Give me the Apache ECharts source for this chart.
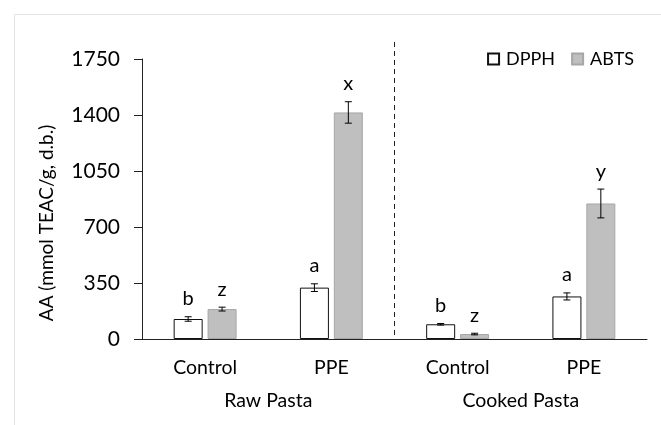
<!DOCTYPE html>
<html>
<head>
<meta charset="utf-8">
<script src="https://cdn.jsdelivr.net/npm/echarts@6/dist/echarts.min.js"></script>
<style>html,body{margin:0;padding:0;background:#fff}#c{width:661px;height:425px}</style>
</head>
<body>
<div id="c"></div>
<script>
const categories = ['Control', 'PPE', 'Control', 'PPE'];
const groups = ['Raw Pasta', 'Cooked Pasta'];
const dpphValues = [125, 321, 92, 266];
const dpphErrors = [14, 24, 5, 22];
const dpphLetters = ['b', 'a', 'b', 'a'];
const abtsValues = [187, 1416, 31, 847];
const abtsErrors = [12, 67, 5, 90];
const abtsLetters = ['z', 'x', 'z', 'y'];
const yTicks = { min: 0, max: 1750, interval: 350 };

const FONT = 'Lato';
const BAR_W = 29;
const BAR_GAP = 0.17;

function errSeries(name, values, errors, letters, sign) {
  return {
    type: 'custom',
    name: name + ' err',
    xAxisIndex: 0, yAxisIndex: 0,
    silent: true,
    z: 5,
    data: values.map((v, i) => [i, v, errors[i]]),
    renderItem: function (params, api) {
      const i = api.value(0), v = api.value(1), e = api.value(2);
      const off = sign * BAR_W * (1 + BAR_GAP) / 2;
      const hi = api.coord([i, v + e]);
      const lo = api.coord([i, v - e]);
      const x = hi[0] + off;
      const cap = 3.5;
      const st = { stroke: '#000', lineWidth: 1 };
      return {
        type: 'group',
        children: [
          { type: 'line', shape: { x1: x, y1: hi[1], x2: x, y2: lo[1] }, style: st },
          { type: 'line', shape: { x1: x - cap, y1: hi[1], x2: x + cap, y2: hi[1] }, style: st },
          { type: 'line', shape: { x1: x - cap, y1: lo[1], x2: x + cap, y2: lo[1] }, style: st },
          { type: 'text', x: x, y: hi[1] - 8, style: { text: letters[params.dataIndex], fill: '#000', font: '20px ' + FONT, align: 'center', verticalAlign: 'bottom' } }
        ]
      };
    }
  };
}

const chart = echarts.init(document.getElementById('c'), null, { renderer: 'canvas' });
chart.setOption({
  animation: false,
  backgroundColor: '#fff',
  graphic: [{
    type: 'rect', left: 12, top: 12, shape: { width: 700, height: 500 },
    style: { fill: 'none', stroke: '#e3e3e3', lineWidth: 1 }, silent: true, z: -10
  }],
  legend: {
    top: 45, right: 22, itemWidth: 11, itemHeight: 11, itemGap: 16, icon: 'rect',
    textStyle: { fontFamily: FONT, fontSize: 18, color: '#000', padding: [0, 0, 0, 2] },
    data: ['DPPH', 'ABTS']
  },
  grid: [
    { left: 142, right: 14, top: 59, bottom: 86 },
    { left: 142, right: 14, top: 42, bottom: 86 }
  ],
  xAxis: [
    {
      type: 'category', gridIndex: 0, data: categories,
      axisLine: { lineStyle: { color: '#222', width: 1 } },
      axisTick: { show: false },
      axisLabel: { fontFamily: FONT, fontSize: 19.5, color: '#000', margin: 19 }
    },
    {
      type: 'category', gridIndex: 1, data: groups, position: 'bottom',
      axisLine: { show: false }, axisTick: { show: false },
      axisLabel: { fontFamily: FONT, fontSize: 19.5, color: '#000', margin: 52 },
      splitLine: { show: true, showMinLine: false, showMaxLine: false, lineStyle: { color: '#222', type: [5, 4], width: 1 } }
    }
  ],
  yAxis: [
    {
      type: 'value', gridIndex: 0, min: yTicks.min, max: yTicks.max, interval: yTicks.interval,
      name: 'AA (mmol TEAC/g, d.b.)', nameLocation: 'middle', nameGap: 86,
      nameTextStyle: { fontFamily: FONT, fontSize: 19, color: '#000', padding: [0, 48, 0, 0] },
      axisLine: { show: true, lineStyle: { color: '#222', width: 1 } },
      axisTick: { show: true, length: 8, lineStyle: { color: '#222' } },
      axisLabel: { fontFamily: FONT, fontSize: 21, color: '#000', margin: 22, formatter: v => String(v) },
      splitLine: { show: false }
    },
    { type: 'value', gridIndex: 1, show: false, min: 0, max: 1 }
  ],
  series: [
    {
      name: 'DPPH', type: 'bar', xAxisIndex: 0, yAxisIndex: 0,
      data: dpphValues, barWidth: BAR_W, barGap: (BAR_GAP * 100) + '%',
      itemStyle: { color: '#ffffff', borderColor: '#111', borderWidth: 1 }
    },
    {
      name: 'ABTS', type: 'bar', xAxisIndex: 0, yAxisIndex: 0,
      data: abtsValues, barWidth: BAR_W,
      itemStyle: { color: '#bfbfbf', borderColor: '#a6a6a6', borderWidth: 1 }
    },
    errSeries('DPPH', dpphValues, dpphErrors, dpphLetters, -1),
    errSeries('ABTS', abtsValues, abtsErrors, abtsLetters, 1)
  ]
});
</script>
</body>
</html>
